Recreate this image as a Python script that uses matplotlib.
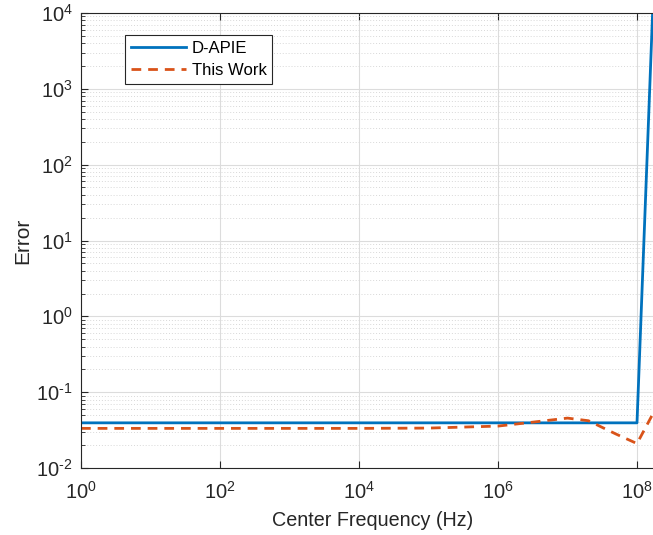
import numpy as np
import matplotlib
matplotlib.use('Agg')
import matplotlib.pyplot as plt
from matplotlib.ticker import LogLocator, NullFormatter, FixedLocator, FixedFormatter

plt.rcParams['font.family'] = ['Liberation Sans', 'DejaVu Sans']
plt.rcParams['mathtext.fontset'] = 'custom'
plt.rcParams['mathtext.rm'] = 'Liberation Sans'
plt.rcParams['axes.unicode_minus'] = False

# data
freq_dapie = [1e0, 1e2, 1e4, 1e6, 1e8, 2e8]
err_dapie = [0.0394, 0.0394, 0.0394, 0.0394, 0.0394, 7e5]

freq_work = [1e0, 1e2, 1e4, 1e5, 1e6, 3e6, 1e7, 2e7, 5e7, 1e8, 2e8]
err_work = [0.0333, 0.0333, 0.0333, 0.0336, 0.0357, 0.040, 0.0455, 0.042, 0.028, 0.021, 0.069]

xticks = [1e0, 1e2, 1e4, 1e6, 1e8]
xlabels = ['0', '2', '4', '6', '8']
yticks = [1e-2, 1e-1, 1e0, 1e1, 1e2, 1e3, 1e4]
ylabels = ['\\text{-}2', '\\text{-}1', '0', '1', '2', '3', '4']

fig = plt.figure(figsize=(6.53, 5.35), dpi=100)
ax = fig.add_axes([81 / 653, 67 / 535, 583.8 / 653, 455 / 535])

ax.loglog(freq_dapie, err_dapie, color='#0072BD', lw=2, label='D-APIE')
ax.loglog(freq_work, err_work, color='#D95319', lw=2, ls=(0, (3.5, 2.5)), label='This Work')

ax.set_xlim(1, 10 ** 8.4)
ax.set_ylim(1e-2, 1e4)
ax.xaxis.set_major_locator(FixedLocator(xticks))
ax.xaxis.set_major_formatter(FixedFormatter(['$\\mathrm{10^{%s}}$' % e for e in xlabels]))
ax.xaxis.set_minor_locator(FixedLocator([]))
ax.yaxis.set_major_locator(FixedLocator(yticks))
ax.yaxis.set_major_formatter(FixedFormatter(['$\\mathrm{10^{%s}}$' % e for e in ylabels]))
ax.yaxis.set_minor_locator(LogLocator(base=10, subs=np.arange(2, 10)))
ax.yaxis.set_minor_formatter(NullFormatter())

ax.grid(True, which='major', color='#dcdcdc', lw=0.8)
ax.grid(True, which='minor', axis='y', color='#d8d8d8', lw=0.7, ls=(0, (1, 2)))
ax.set_axisbelow(True)

for s in ax.spines.values():
    s.set_color('#262626')
    s.set_linewidth(0.8)
ax.tick_params(which='both', direction='in', top=True, right=True, colors='#262626',
               labelsize=14.5, labelcolor='#262626')
ax.tick_params(which='major', length=5)
ax.tick_params(which='minor', length=3)
ax.tick_params(axis='x', pad=9)
ax.tick_params(axis='y', pad=6)

ax.set_xlabel('Center Frequency (Hz)', fontsize=14.2, color='#262626', labelpad=6)
ax.set_ylabel('Error', fontsize=15, color='#262626', labelpad=3)

leg = ax.legend(loc='upper left', bbox_to_anchor=(0.0754, 0.952), fontsize=12,
                fancybox=False, framealpha=1, edgecolor='#262626', borderaxespad=0,
                handlelength=3.3, handletextpad=0.35, borderpad=0.35, labelspacing=0.45)
leg.get_frame().set_linewidth(0.8)

fig.savefig('out.png', dpi=100)
